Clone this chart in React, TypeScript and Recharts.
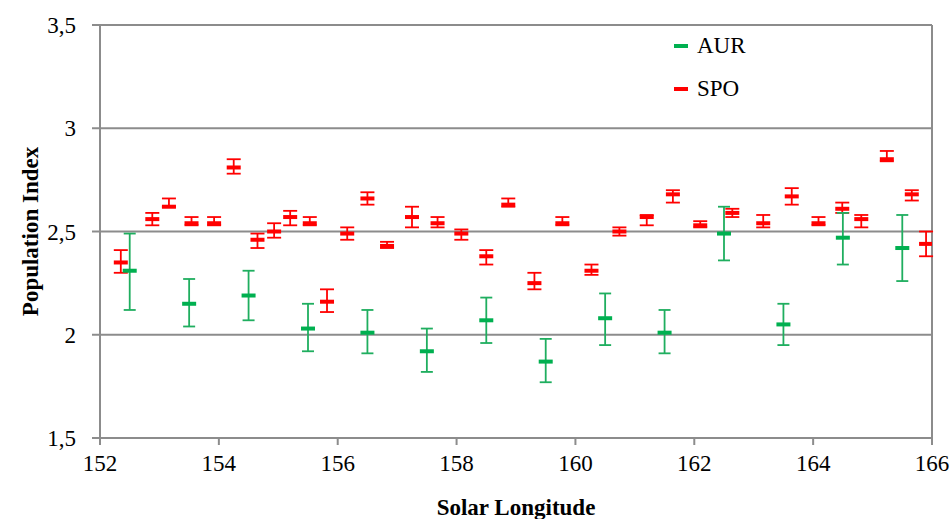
import {
  ScatterChart,
  Scatter,
  XAxis,
  YAxis,
  CartesianGrid,
  ErrorBar,
  ReferenceLine,
} from 'recharts';

const AUR_X = [152.5, 153.5, 154.5, 155.5, 156.5, 157.5, 158.5, 159.5, 160.5, 161.5, 162.5, 163.5, 164.5, 165.5];
const AUR_Y = [2.31, 2.15, 2.19, 2.03, 2.01, 1.92, 2.07, 1.87, 2.08, 2.01, 2.49, 2.05, 2.47, 2.42];
const AUR_LO = [2.12, 2.04, 2.07, 1.92, 1.91, 1.82, 1.96, 1.77, 1.95, 1.91, 2.36, 1.95, 2.34, 2.26];
const AUR_HI = [2.49, 2.27, 2.31, 2.15, 2.12, 2.03, 2.18, 1.98, 2.2, 2.12, 2.62, 2.15, 2.59, 2.58];

const SPO_X = [
  152.35, 152.88, 153.16, 153.54, 153.92, 154.25, 154.65, 154.93, 155.2, 155.53,
  155.82, 156.16, 156.5, 156.83, 157.25, 157.68, 158.08, 158.5, 158.87, 159.31,
  159.78, 160.27, 160.74, 161.2, 161.64, 162.1, 162.64, 163.16, 163.64, 164.09,
  164.49, 164.81, 165.24, 165.66, 165.9,
];
const SPO_Y = [
  2.35, 2.56, 2.62, 2.54, 2.54, 2.81, 2.46, 2.5, 2.57, 2.54,
  2.16, 2.49, 2.66, 2.43, 2.57, 2.54, 2.49, 2.38, 2.63, 2.25,
  2.54, 2.31, 2.5, 2.57, 2.68, 2.53, 2.59, 2.54, 2.67, 2.54,
  2.61, 2.56, 2.85, 2.68, 2.44,
];
const SPO_LO = [
  2.3, 2.53, 2.62, 2.53, 2.53, 2.78, 2.42, 2.47, 2.53, 2.53,
  2.11, 2.46, 2.63, 2.42, 2.52, 2.52, 2.46, 2.34, 2.62, 2.22,
  2.53, 2.29, 2.48, 2.53, 2.64, 2.52, 2.57, 2.52, 2.63, 2.53,
  2.59, 2.52, 2.84, 2.65, 2.38,
];
const SPO_HI = [
  2.41, 2.59, 2.66, 2.57, 2.57, 2.85, 2.49, 2.54, 2.6, 2.57,
  2.22, 2.52, 2.69, 2.45, 2.62, 2.57, 2.51, 2.41, 2.66, 2.3,
  2.57, 2.34, 2.52, 2.58, 2.7, 2.55, 2.61, 2.58, 2.71, 2.57,
  2.64, 2.58, 2.89, 2.7, 2.5,
];

const X_TICKS = [152, 154, 156, 158, 160, 162, 164, 166];
const Y_TICKS = [1.5, 2, 2.5, 3, 3.5];

const AUR_COLOR = '#00b050';
const SPO_COLOR = '#ff0000';
const AXIS_COLOR = '#8c8c8c';
const FONT = 'Times New Roman';

const build = (xs: number[], ys: number[], lo: number[], hi: number[]) =>
  xs.map((x, i) => ({ x, y: ys[i], err: [ys[i] - lo[i], hi[i] - ys[i]] }));

const aurData = build(AUR_X, AUR_Y, AUR_LO, AUR_HI);
const spoData = build(SPO_X, SPO_Y, SPO_LO, SPO_HI);

const dash = (color: string) => (props: any) => (
  <rect x={props.cx - 7} y={props.cy - 2} width={14} height={4} fill={color} />
);

const legendItems = [
  { name: 'AUR', color: AUR_COLOR },
  { name: 'SPO', color: SPO_COLOR },
];

function LegendBox() {
  return (
    <div style={{ position: 'absolute', left: 674, top: 24, fontFamily: FONT, fontSize: 23, color: '#000' }}>
      {legendItems.map((it) => (
        <div key={it.name} style={{ display: 'flex', alignItems: 'center', height: 43 }}>
          <span style={{ display: 'inline-block', width: 14, height: 4, background: it.color, marginRight: 9 }} />
          <span>{it.name}</span>
        </div>
      ))}
    </div>
  );
}

export default function App() {
  const tick = { fontSize: 23, fill: '#000', fontFamily: FONT };
  return (
    <div style={{ position: 'absolute', left: 0, top: 0, width: 952, height: 519, background: '#fff', fontFamily: FONT }}>
      <ScatterChart width={952} height={519} margin={{ top: 25, right: 20, bottom: 31, left: 0 }}>
        <CartesianGrid vertical={false} stroke={AXIS_COLOR} strokeWidth={2} />
        <XAxis
          type="number"
          dataKey="x"
          domain={[152, 166]}
          ticks={X_TICKS}
          height={50}
          tick={tick}
          tickSize={7}
          tickMargin={10}
          stroke={AXIS_COLOR}
          strokeWidth={2}
          allowDataOverflow
          label={(p: any) => (
            <text
              x={p.viewBox.x + p.viewBox.width / 2}
              y={p.viewBox.y + 69}
              textAnchor="middle"
              dominantBaseline="central"
              fontFamily={FONT}
              fontSize={23}
              fontWeight="bold"
              fill="#000"
            >
              Solar Longitude
            </text>
          )}
        />
        <YAxis
          type="number"
          dataKey="y"
          domain={[1.5, 3.5]}
          ticks={Y_TICKS}
          width={100}
          tick={tick}
          tickSize={8}
          tickMargin={16}
          stroke={AXIS_COLOR}
          strokeWidth={2}
          tickFormatter={(v: number) => String(v).replace('.', ',')}
          label={(p: any) => {
            const cx = 30;
            const cy = p.viewBox.y + p.viewBox.height / 2;
            return (
              <text
                x={cx}
                y={cy}
                textAnchor="middle"
                dominantBaseline="central"
                transform={`rotate(-90 ${cx} ${cy})`}
                fontFamily={FONT}
                fontSize={23}
                fontWeight="bold"
                fill="#000"
              >
                Population Index
              </text>
            );
          }}
        />
        <ReferenceLine x={166} stroke={AXIS_COLOR} strokeWidth={2} />
        <Scatter name="SPO" data={spoData} shape={dash(SPO_COLOR)} isAnimationActive={false}>
          <ErrorBar dataKey="err" direction="y" width={7} stroke={SPO_COLOR} strokeWidth={1.8} />
        </Scatter>
        <Scatter name="AUR" data={aurData} shape={dash(AUR_COLOR)} isAnimationActive={false}>
          <ErrorBar dataKey="err" direction="y" width={6} stroke="#1fae5f" strokeWidth={1.8} />
        </Scatter>
      </ScatterChart>
      <LegendBox />
    </div>
  );
}
